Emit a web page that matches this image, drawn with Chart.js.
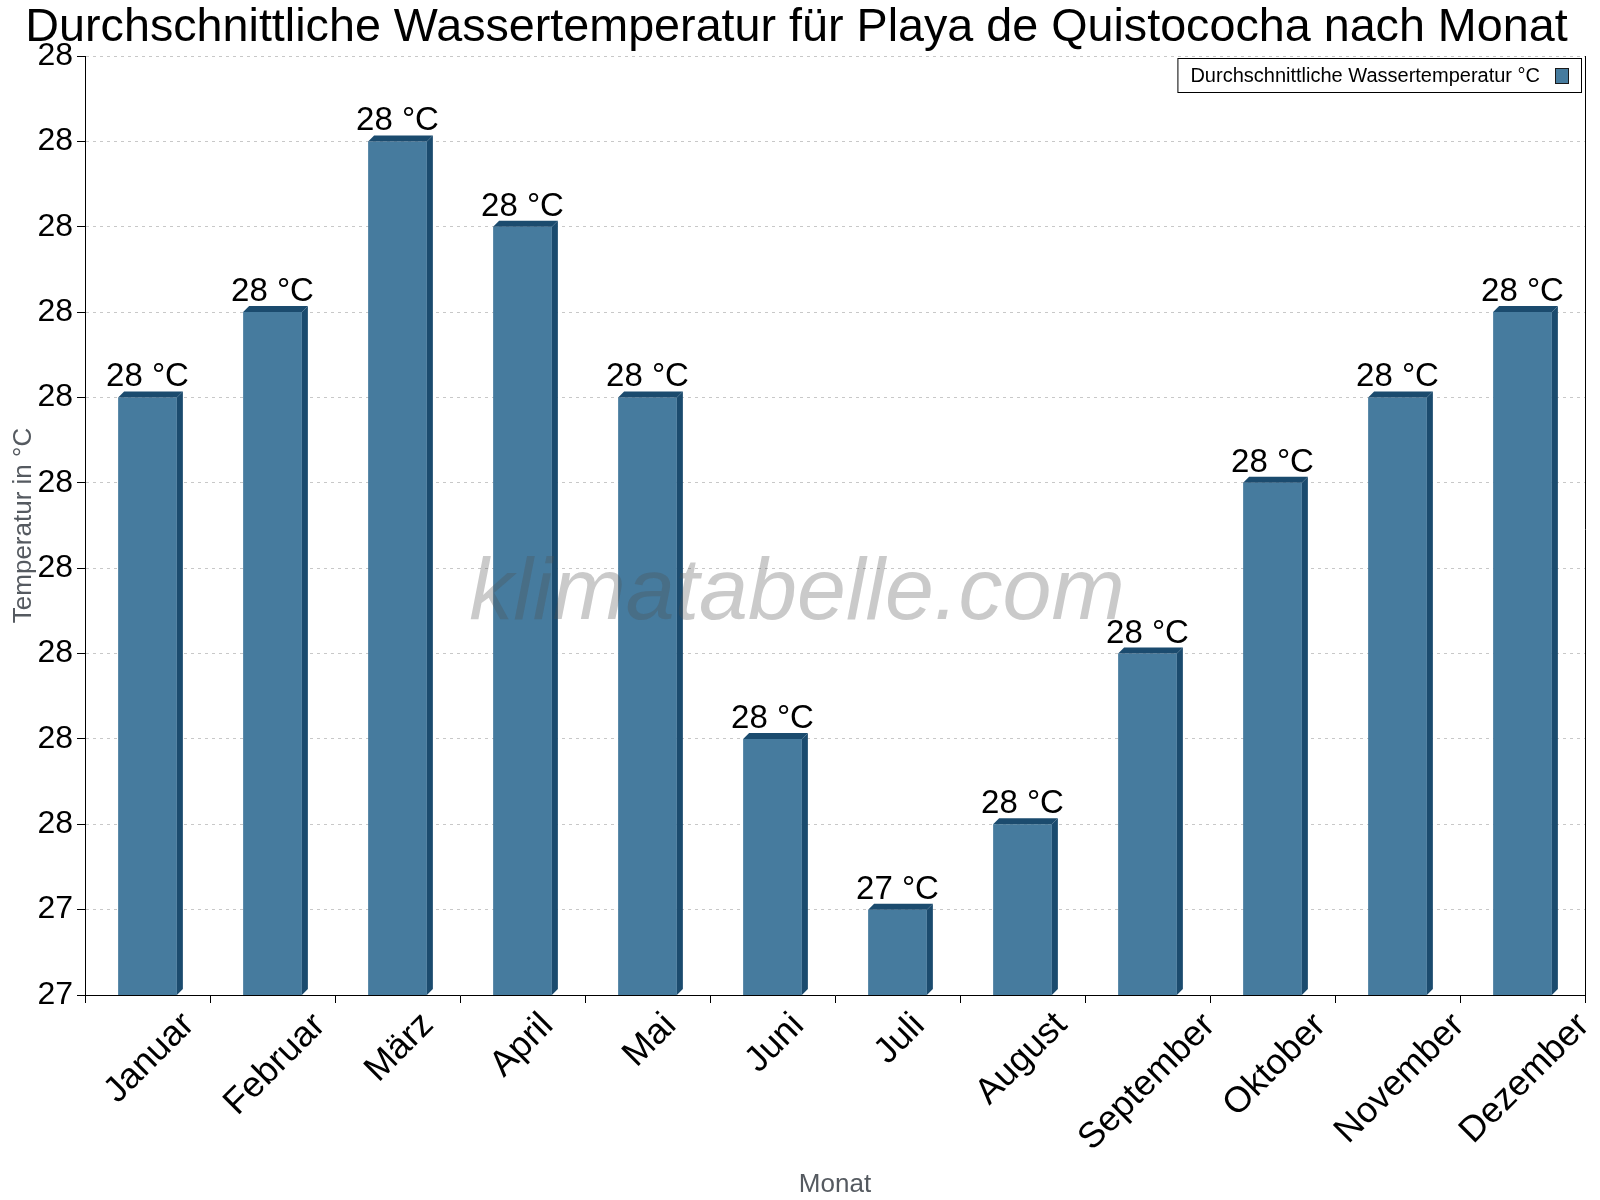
<!DOCTYPE html>
<html>
<head>
<meta charset="utf-8">
<script src="https://cdn.jsdelivr.net/npm/chart.js@4.4.1/dist/chart.umd.min.js"></script>
<style>
  html, body { margin: 0; padding: 0; background: #fff; }
</style>
</head>
<body>
<canvas id="waterChart" width="1600" height="1200"></canvas>
<script>
const months = ['Januar', 'Februar', 'März', 'April', 'Mai', 'Juni', 'Juli', 'August', 'September', 'Oktober', 'November', 'Dezember'];
const waterTemp = [28.0, 28.1, 28.3, 28.2, 28.0, 27.6, 27.4, 27.5, 27.7, 27.9, 28.0, 28.1];
const seriesLabel = 'Durchschnittliche Wassertemperatur °C';
const yMin = 27.3;
const yMax = 28.4;

const FONT = '"Liberation Sans", Arial, sans-serif';
const FRONT = '#467b9e';
const DARK = '#1b4b6e';
const DEPTH = 6;

// fake 3d faces + value labels above the bars
const barDecor = {
    id: 'barDecor',
    afterDatasetsDraw(chart) {
        const ctx = chart.ctx;
        const meta = chart.getDatasetMeta(0);
        const bottom = chart.chartArea.bottom;
        ctx.save();
        meta.data.forEach((bar, i) => {
            const p = bar.getProps(['x', 'y', 'base', 'width'], true);
            const base = Math.min(p.base, bottom);
            const left = p.x - p.width / 2;
            const right = p.x + p.width / 2;
            ctx.fillStyle = DARK;
            ctx.beginPath();
            ctx.moveTo(right, p.y);
            ctx.lineTo(right + DEPTH, p.y - DEPTH);
            ctx.lineTo(right + DEPTH, base - DEPTH);
            ctx.lineTo(right, base);
            ctx.closePath();
            ctx.fill();
            ctx.beginPath();
            ctx.moveTo(left, p.y);
            ctx.lineTo(left + DEPTH, p.y - DEPTH);
            ctx.lineTo(right + DEPTH, p.y - DEPTH);
            ctx.lineTo(right, p.y);
            ctx.closePath();
            ctx.fill();

            ctx.fillStyle = '#000';
            ctx.font = '33px ' + FONT;
            ctx.textAlign = 'center';
            ctx.textBaseline = 'alphabetic';
            ctx.fillText(Math.round(waterTemp[i] + 1e-9) + ' °C', p.x, p.y - 11);
        });
        ctx.restore();
    },
    afterDraw(chart) {
        const ctx = chart.ctx;
        const a = chart.chartArea;
        const xScale = chart.scales.x;
        ctx.save();
        // right frame line
        ctx.strokeStyle = '#000';
        ctx.lineWidth = 1;
        ctx.beginPath();
        ctx.moveTo(a.right + 0.5, a.top);
        ctx.lineTo(a.right + 0.5, a.bottom + 8);
        ctx.stroke();

        // month labels, rotated and centred under their category
        ctx.font = '36px ' + FONT;
        ctx.fillStyle = '#000';
        ctx.textAlign = 'center';
        ctx.textBaseline = 'alphabetic';
        const k = Math.SQRT1_2;
        months.forEach((m, i) => {
            const tm = ctx.measureText(m);
            const w = tm.width;
            const asc = tm.actualBoundingBoxAscent;
            const desc = tm.actualBoundingBoxDescent;
            const cx = k * (desc - asc) / 2;
            const minY = -k * (w / 2 + asc);
            const tx = xScale.getPixelForTick(i) - cx;
            const ty = a.bottom + 13 - minY;
            ctx.save();
            ctx.translate(tx, ty);
            ctx.rotate(-Math.PI / 4);
            ctx.fillText(m, 0, 0);
            ctx.restore();
        });

        // watermark
        ctx.font = 'italic 88px ' + FONT;
        ctx.fillStyle = 'rgba(80, 80, 80, 0.3)';
        ctx.textAlign = 'center';
        ctx.textBaseline = 'middle';
        ctx.fillText('klimatabelle.com', (a.left + a.right) / 2 - 38, 595);

        // legend box
        ctx.font = '20px ' + FONT;
        const tw = ctx.measureText(seriesLabel).width;
        const bx2 = a.right - 4, by = 58, bh = 34;
        const bx = bx2 - (tw + 54);
        ctx.fillStyle = '#fff';
        ctx.fillRect(bx, by, bx2 - bx, bh);
        ctx.strokeStyle = '#000';
        ctx.strokeRect(bx + 0.5, by + 0.5, bx2 - bx, bh);
        ctx.fillStyle = '#000';
        ctx.textAlign = 'left';
        ctx.textBaseline = 'middle';
        ctx.fillText(seriesLabel, bx + 13, by + bh / 2 + 1);
        ctx.fillStyle = FRONT;
        ctx.fillRect(bx2 - 26, by + 10, 13, 15);
        ctx.strokeStyle = '#1a1a1a';
        ctx.strokeRect(bx2 - 26 + 0.5, by + 10 + 0.5, 13, 15);
        ctx.restore();
    }
};

new Chart(document.getElementById('waterChart').getContext('2d'), {
    type: 'bar',
    data: {
        labels: months,
        datasets: [{
            label: seriesLabel,
            data: waterTemp,
            backgroundColor: FRONT,
            borderWidth: 0,
            barPercentage: 0.47,
            categoryPercentage: 1.0
        }]
    },
    options: {
        responsive: false,
        animation: false,
        layout: { padding: { top: 0, right: 15, left: 8, bottom: 0 } },
        plugins: {
            legend: { display: false },
            tooltip: { enabled: false },
            title: {
                display: true,
                text: 'Durchschnittliche Wassertemperatur für Playa de Quistococha nach Monat',
                color: '#000',
                font: { family: FONT, size: 46.7, weight: 'normal' },
                padding: { top: 0, bottom: 0 }
            }
        },
        scales: {
            x: {
                afterFit: s => { s.height = 205; },
                grid: { display: true, drawOnChartArea: false, offset: true, tickLength: 8, color: '#000', tickColor: '#000' },
                border: { display: true, color: '#000' },
                ticks: { display: false },
                title: {
                    display: true,
                    text: 'Monat',
                    color: '#555a60',
                    font: { family: FONT, size: 26 },
                    padding: { top: 0, bottom: 0 }
                }
            },
            y: {
                min: yMin,
                max: yMax,
                afterFit: s => { s.width = 77; },
                grid: {
                    color: '#c8c8c8',
                    tickColor: '#000',
                    tickLength: 8,
                    tickBorderDash: []
                },
                border: { display: true, color: '#000', dash: [3, 4] },
                ticks: {
                    stepSize: 0.1,
                    color: '#000',
                    font: { family: FONT, size: 32 },
                    padding: 4,
                    callback: v => Math.round(v + 1e-9)
                },
                title: {
                    display: true,
                    text: 'Temperatur in °C',
                    color: '#555a60',
                    font: { family: FONT, size: 26 },
                    padding: { top: 0, bottom: 0 }
                }
            }
        }
    },
    plugins: [barDecor]
});
</script>
</body>
</html>
